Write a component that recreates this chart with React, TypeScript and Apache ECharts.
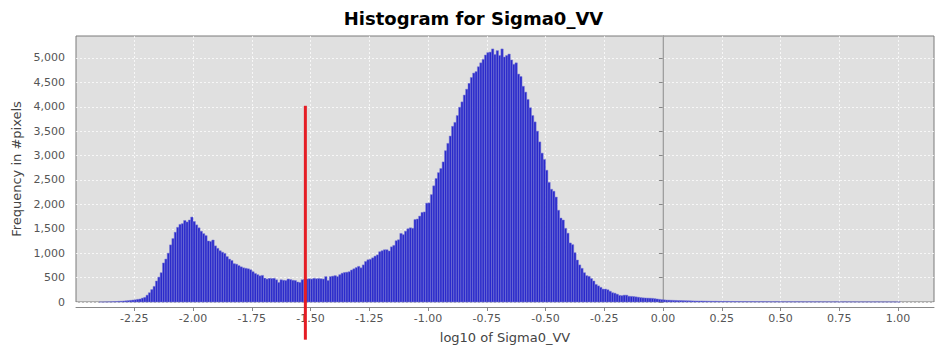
import React, { useEffect, useRef } from "react";
import * as echarts from "echarts";

const TITLE = "Histogram for Sigma0_VV";
const X_NAME = "log10 of Sigma0_VV";
const Y_NAME = "Frequency in #pixels";

const BIN_START = -2.4;
const BIN_WIDTH = 0.01;

const counts: number[] = [
  0, 0, 1, 2, 3, 5, 8, 10, 14, 16,
  20, 24, 28, 34, 40, 45, 55, 62, 80, 95,
  140, 190, 255, 320, 430, 510, 600, 800, 880, 1000,
  1170, 1300, 1430, 1530, 1590, 1605, 1670, 1640, 1680, 1740,
  1650, 1580, 1520, 1450, 1400, 1360, 1250, 1240, 1270, 1150,
  1100, 1050, 1020, 995, 930, 880, 850, 785, 775, 745,
  720, 700, 690, 680, 660, 620, 585, 560, 535, 545,
  490, 470, 485, 480, 485, 455, 400, 455, 445, 440,
  470, 460, 445, 440, 410, 400, 455, 460, 470, 475,
  470, 485, 475, 480, 475, 470, 520, 440, 520, 530,
  540, 520, 560, 590, 605, 610, 620, 655, 680, 705,
  730, 700, 760, 830, 865, 875, 905, 940, 965, 1030,
  1050, 1070, 1070, 1045, 1130, 1160, 1255, 1275, 1405, 1380,
  1450, 1500, 1520, 1510, 1690, 1700, 1760, 1835, 1845, 2025,
  2030, 2200, 2380, 2530, 2650, 2735, 2870, 3100, 3250, 3400,
  3600, 3680, 3820, 3990, 4100, 4240, 4360, 4480, 4600, 4690,
  4720, 4820, 4900, 4970, 5060, 5110, 5120, 5185, 5070, 5150,
  5050, 5185, 5020, 5050, 5080, 4960, 4870, 4900, 4670, 4620,
  4420, 4300, 4150, 3980, 3820, 3690, 3500, 3280, 3050, 2920,
  2700, 2450, 2310, 2270, 2150, 1880, 1720, 1680, 1510, 1410,
  1210, 1175, 1010, 860, 760, 690, 600, 540, 525, 480,
  430, 360, 330, 300, 265, 265, 250, 220, 190, 180,
  160, 135, 130, 140, 140, 118, 115, 112, 105, 98,
  90, 85, 82, 80, 78, 75, 68, 62, 55, 48,
  44, 40, 38, 36, 34, 32, 30, 30, 28, 26,
  25, 24, 22, 21, 20, 19, 20, 18, 17, 16,
  15, 14, 15, 13, 12, 14, 11, 12, 10, 11,
  9, 10, 9, 8, 9, 8, 7, 9, 8, 7,
  6, 7, 8, 6, 7, 6, 5, 6, 7, 5,
  6, 5, 4, 6, 5, 4, 5, 6, 4, 5,
  3, 4, 5, 4, 3, 4, 5, 3, 4, 3,
  4, 2, 3, 4, 3, 2, 3, 4, 2, 3,
  2, 3, 2, 1, 3, 2, 2, 3, 1, 2,
  2, 3, 1, 2, 1, 2, 1, 1, 2, 0,
  1,
];

const xTicks = [-2.25, -2.0, -1.75, -1.5, -1.25, -1.0, -0.75, -0.5, -0.25, 0.0, 0.25, 0.5, 0.75, 1.0];
const yTicks = [0, 500, 1000, 1500, 2000, 2500, 3000, 3500, 4000, 4500, 5000];

const X_MIN = -2.498;
const X_MAX = 1.153;
const Y_MIN = 0;
const Y_MAX = 5450;

const thresholdX = -1.522;
const thresholdY = [-772, 4020];
const zeroLineX = 0;

const FONT = "DejaVu Sans";

export default function App() {
  const ref = useRef<HTMLDivElement>(null);

  useEffect(() => {
    document.body.style.margin = "0";
    if (!ref.current) return;
    const chart = echarts.init(ref.current, undefined, { renderer: "svg" });

    const bins = counts.map((c, i) => [
      BIN_START + i * BIN_WIDTH,
      BIN_START + (i + 1) * BIN_WIDTH,
      c,
    ]);

    chart.setOption({
      animation: false,
      backgroundColor: "#ffffff",
      title: {
        text: TITLE,
        left: "center",
        top: 4,
        textStyle: { fontFamily: FONT, fontWeight: "bold", fontSize: 18, color: "#000" },
      },
      grid: {
        left: 76,
        right: 13,
        top: 36,
        bottom: 51,
        show: true,
        backgroundColor: "#e0e0e0",
        borderColor: "#7a7a7a",
        borderWidth: 1,
        containLabel: false,
        outerBoundsMode: "none",
      },
      xAxis: {
        type: "value",
        min: X_MIN,
        max: X_MAX,
        offset: 5,
        name: X_NAME,
        nameLocation: "middle",
        nameGap: 24,
        nameTextStyle: { fontFamily: FONT, fontSize: 13, color: "#444" },
        axisLine: { show: true, onZero: false, lineStyle: { color: "#888", width: 1 } },
        axisTick: { show: true, length: 4, lineStyle: { color: "#888" }, customValues: xTicks },
        axisLabel: {
          customValues: xTicks,
          fontFamily: FONT,
          fontSize: 11,
          color: "#555",
          margin: 6,
          formatter: (v: number) => v.toFixed(2),
        },
        splitLine: {
          show: true,
          lineStyle: { color: "rgba(255,255,255,0.75)", type: [2, 2], width: 1 },
        },
      },
      yAxis: {
        type: "value",
        min: Y_MIN,
        max: Y_MAX,
        offset: 5,
        name: Y_NAME,
        nameLocation: "middle",
        nameGap: 42,
        nameRotate: 90,
        nameTextStyle: { fontFamily: FONT, fontSize: 13, color: "#444" },
        axisLine: { show: true, lineStyle: { color: "#888", width: 1 } },
        axisTick: { show: true, length: 4, lineStyle: { color: "#888" }, customValues: yTicks },
        axisLabel: {
          customValues: yTicks,
          fontFamily: FONT,
          fontSize: 11,
          color: "#555",
          margin: 6,
          formatter: (v: number) => v.toLocaleString("en-US"),
        },
        splitLine: {
          show: true,
          lineStyle: { color: "rgba(255,255,255,0.75)", type: [2, 2], width: 1 },
        },
      },
      series: [
        {
          type: "line",
          data: [
            [zeroLineX, Y_MIN],
            [zeroLineX, Y_MAX],
          ],
          symbol: "none",
          lineStyle: { color: "#b4b4b4", width: 1 },
          emphasis: { disabled: true },
          silent: true,
          z: 1,
        },
        {
          type: "custom",
          data: bins,
          encode: { x: [0, 1], y: 2 },
          z: 2,
          renderItem: (params: any, api: any) => {
            const x0 = api.value(0);
            const x1 = api.value(1);
            const v = api.value(2);
            const pTop = api.coord([x0, v]);
            const pBot = api.coord([x1, 0]);
            return {
              type: "rect",
              shape: {
                x: pTop[0],
                y: pTop[1],
                width: pBot[0] - pTop[0],
                height: pBot[1] - pTop[1],
              },
              style: { fill: "#2a2acb", stroke: "#7a7ad6", lineWidth: 0.5 },
            };
          },
        },
        {
          type: "line",
          data: [
            [thresholdX, thresholdY[0]],
            [thresholdX, thresholdY[1]],
          ],
          symbol: "none",
          clip: false,
          lineStyle: { color: "#e51d25", width: 3 },
          emphasis: { disabled: true },
          silent: true,
          z: 5,
        },
      ],
    });

    return () => chart.dispose();
  }, []);

  return <div ref={ref} style={{ width: 947, height: 353 }} />;
}
